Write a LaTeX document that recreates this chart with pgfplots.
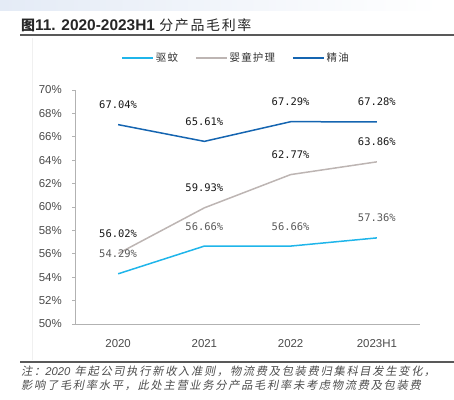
\documentclass[border=0pt]{standalone}
\usepackage{pgfplots}
\pgfplotsset{compat=1.18}
\usepackage{fontspec}
\setmainfont{Liberation Sans}
\newfontfamily\cjk{Noto Sans CJK SC}
\newfontfamily\cjkleg[LetterSpace=12]{Noto Sans CJK SC}
\newfontfamily\cjkit[FakeSlant=0.2,LetterSpace=15]{Noto Sans CJK SC}
\newfontfamily\cjktitle[LetterSpace=12]{Noto Sans CJK SC}
\newfontfamily\monof{DejaVu Sans Mono}
\definecolor{cQW}{HTML}{1FB5EA}
\definecolor{cYT}{HTML}{BDB5B3}
\definecolor{cJY}{HTML}{1565B1}
\definecolor{tickgray}{HTML}{4A4A4A}
\definecolor{lblgray}{HTML}{595959}
\definecolor{rulegray}{HTML}{595959}
\definecolor{bandblue}{HTML}{E4EBF6}
\begin{document}
\begin{tikzpicture}[x=1bp,y=1bp]
\useasboundingbox (0,0) rectangle (454,399);
\shade[left color=bandblue, right color=white] (0,388) rectangle (440,399);
\draw[line width=1.6bp, rulegray] (20,364) -- (454,364);
\draw[line width=1.3bp, rulegray] (20,37) -- (454,37);
\draw[line width=0.5bp, black!6] (32,39) -- (32,361);
\node[anchor=west, inner sep=0pt, text=black!85] at (21,374)
  {\cjktitle\fontsize{14}{16}\selectfont\bfseries 图\fontsize{15.5}{17}\selectfont\rmfamily\bfseries 11. 2020-2023H1 \cjktitle\mdseries\fontsize{14}{16}\selectfont 分产品毛利率};
\node[anchor=west, inner sep=0pt, text=black!70] at (21,28)
  {\cjkit\fontsize{11.3}{14}\selectfont 注：\textit{\rmfamily 2020} 年起公司执行新收入准则，物流费及包装费归集科目发生变化，};
\node[anchor=west, inner sep=0pt, text=black!70] at (21,14)
  {\cjkit\fontsize{11.3}{14}\selectfont 影响了毛利率水平，此处主营业务分产品毛利率未考虑物流费及包装费};
\begin{axis}[
  at={(75bp,75bp)}, anchor=south west,
  scale only axis, width=345bp, height=234bp,
  xmin=-0.5, xmax=3.5, ymin=50, ymax=70,
  axis x line*=bottom, axis y line*=left,
  axis line style={black!30, line width=0.8bp},
  xtick={0,1,2,3},
  xticklabels={2020,2021,2022,2023H1},
  major x tick style={draw=none},
  extra x ticks={-0.5,0.5,1.5,2.5,3.5},
  extra x tick labels={},
  extra x tick style={tick align=outside, major tick length=4bp, tick style={black!35, line width=0.8bp}},
  ytick={50,52,...,70},
  yticklabels={50\%,52\%,54\%,56\%,58\%,60\%,62\%,64\%,66\%,68\%,70\%},
  tick align=outside,
  major tick length=3bp,
  y tick style={black!30, line width=0.8bp},
  ticklabel style={font=\fontsize{11.5}{12}\selectfont, text=tickgray, inner sep=0pt},
  yticklabel style={xshift=-10bp},
  xticklabel style={yshift=-12bp},
  legend style={at={(0.467,1.137)}, anchor=center, draw=none, fill=none,
    font=\cjkleg\fontsize{10.5}{12}\selectfont, text=black!80,
    /tikz/every even column/.append style={column sep=15bp}},
  legend columns=3,
  legend image code/.code={\draw[#1, line width=1.5bp] (0bp,0bp) -- (31bp,0bp);},
  nodes near coords,
  point meta=explicit symbolic,
  every node near coord/.append style={font=\monof\fontsize{10.5}{12}\selectfont, inner sep=0pt, anchor=south, yshift=15bp},
]
\addplot[cQW, line width=1.5bp, mark=none, every node near coord/.append style={text=lblgray}]
  coordinates {(0,54.29) [54.29\%] (1,56.66) [56.66\%] (2,56.66) [56.66\%] (3,57.36) [57.36\%]};
\addlegendentry{驱蚊}
\addplot[cYT, line width=1.5bp, mark=none, every node near coord/.append style={text=black!90}]
  coordinates {(0,56.02) [56.02\%] (1,59.93) [59.93\%] (2,62.77) [62.77\%] (3,63.86) [63.86\%]};
\addlegendentry{婴童护理}
\addplot[cJY, line width=1.5bp, mark=none, every node near coord/.append style={text=black!90}]
  coordinates {(0,67.04) [67.04\%] (1,65.61) [65.61\%] (2,67.29) [67.29\%] (3,67.28) [67.28\%]};
\addlegendentry{精油}
\end{axis}
\end{tikzpicture}
\end{document}
